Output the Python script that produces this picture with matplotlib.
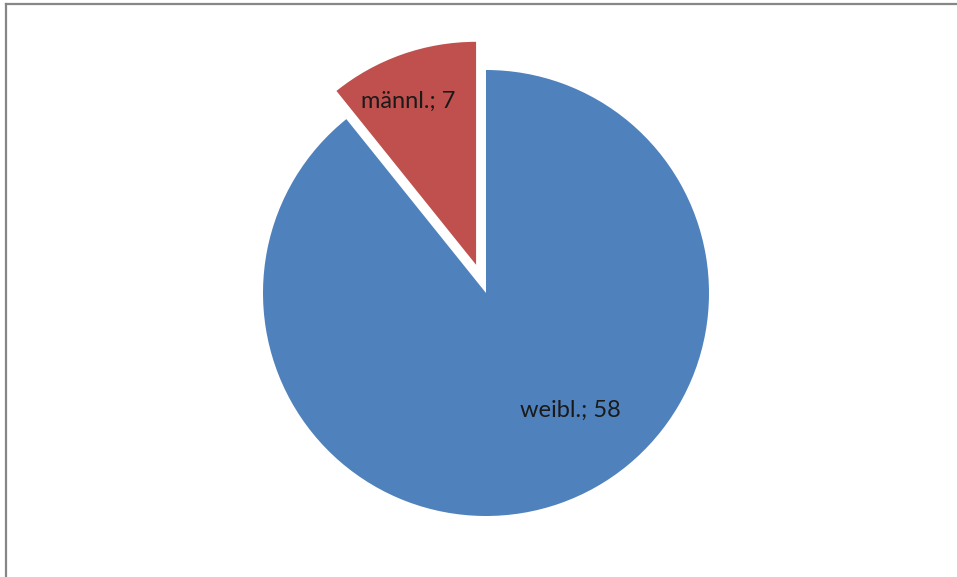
import matplotlib.pyplot as plt
from matplotlib.lines import Line2D
import numpy as np

# Geschlechterverteilung
labels = ['weibl.', 'männl.']
values = [58, 7]
colors = ['#4F81BD', '#C0504D']

W, H = 957, 577
fig = plt.figure(figsize=(W / 100, H / 100), dpi=100)
ax = fig.add_axes([0, 0, 1, 1])

cx, cy, r = 486, H - 293, 223
explode = [0, 0.134 * r]  # pie() nimmt den Versatz in Datenkoordinaten
wedges, _ = ax.pie(values, colors=colors, explode=explode, startangle=90,
                   counterclock=False, center=(cx, cy), radius=r,
                   wedgeprops=dict(linewidth=0))

ax.set_xlim(0, W)
ax.set_ylim(0, H)
ax.set_aspect('equal')
ax.axis('off')

# Beschriftung "Name; Wert" in den Segmenten
label_pos = [(570, H - 410), (408, H - 101)]
for name, val, (x, y) in zip(labels, values, label_pos):
    ax.text(x, y, '%s; %d' % (name, val), ha='center', va='center',
            fontsize=17, family='Lato', color='#1a1a1a')

# Rahmen (oben und links)
fig.add_artist(Line2D([5.5 / W, 1], [1 - 3.5 / H, 1 - 3.5 / H],
                      transform=fig.transFigure, color='#868686', lw=1.6))
fig.add_artist(Line2D([5.5 / W, 5.5 / W], [0, 1 - 3.5 / H],
                      transform=fig.transFigure, color='#868686', lw=1.6))

fig.savefig('out.png', dpi=100)
